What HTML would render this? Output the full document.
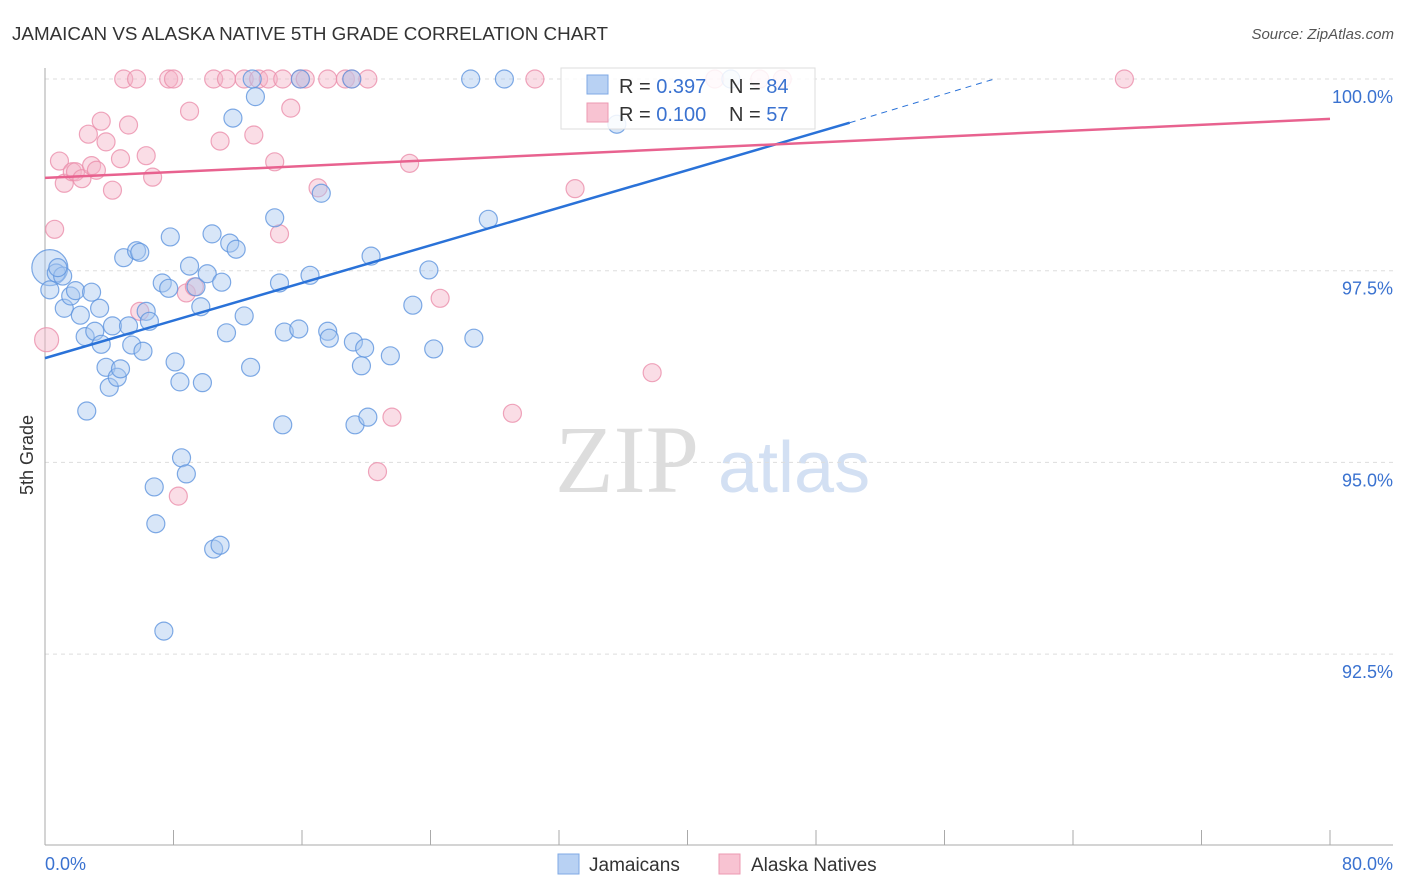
<!DOCTYPE html>
<html><head><meta charset="utf-8"><style>
body{margin:0;background:#fff;font-family:"Liberation Sans",sans-serif}
svg{display:block}
</style></head><body>
<svg id="chart" width="1406" height="892" xmlns="http://www.w3.org/2000/svg">
<text x="12" y="40" font-size="18" fill="#333" textLength="596" lengthAdjust="spacingAndGlyphs">JAMAICAN VS ALASKA NATIVE 5TH GRADE CORRELATION CHART</text>
<text x="1394" y="39" font-size="15" fill="#555" font-style="italic" text-anchor="end">Source: ZipAtlas.com</text>
<text x="33" y="455" font-size="18" fill="#333" text-anchor="middle" transform="rotate(-90 33 455)">5th Grade</text>
<text x="555" y="492" font-size="96" fill="#ddd" font-family="Liberation Serif,serif">ZIP</text>
<text x="718" y="492" font-size="72" fill="#d3e0f3">atlas</text>
<g id="grid"></g><g id="axes"></g><g id="pts"></g><g id="lines"></g>
<g>
<rect x="561" y="68" width="254" height="61" fill="#fff" fill-opacity="0.85" stroke="#ddd"/>
<rect x="587" y="75" width="21" height="19" fill="#b8d1f3" stroke="#7fa9e4"/>
<rect x="587" y="103" width="21" height="19" fill="#f8c3d2" stroke="#ec9ab2"/>
<text x="619" y="93" font-size="20" fill="#333">R = <tspan fill="#3a72d0">0.397</tspan></text>
<text x="729" y="93" font-size="20" fill="#333">N = <tspan fill="#3a72d0">84</tspan></text>
<text x="619" y="121" font-size="20" fill="#333">R = <tspan fill="#3a72d0">0.100</tspan></text>
<text x="729" y="121" font-size="20" fill="#333">N = <tspan fill="#3a72d0">57</tspan></text>
</g>
<g>
<rect x="558" y="854" width="21" height="20" fill="#b8d1f3" stroke="#7fa9e4"/>
<text x="589" y="871" font-size="19" fill="#333">Jamaicans</text>
<rect x="719" y="854" width="21" height="20" fill="#f8c3d2" stroke="#ec9ab2"/>
<text x="751" y="871" font-size="19" fill="#333">Alaska Natives</text>
</g>
</svg>
<script>
const blueX=[0.3,0.3,0.7,1.1,0.8,1.2,1.6,1.9,2.9,2.2,2.5,3.1,3.4,3.5,2.6,3.8,4.0,4.5,4.7,4.2,4.9,5.7,5.9,5.2,5.4,6.1,6.3,6.5,7.3,7.7,7.8,8.1,8.4,8.5,8.8,6.8,6.9,7.4,9.0,9.4,9.7,9.8,10.1,10.4,11.0,11.3,11.5,11.9,10.5,10.9,12.4,12.8,12.9,13.1,11.7,14.3,14.6,14.8,14.9,15.8,15.9,16.5,17.2,17.6,17.7,19.1,19.2,19.3,19.7,19.9,20.1,20.3,21.5,22.9,23.9,24.2,26.7,26.5,27.6,28.6,35.6,42.7];
const blueY=[97.54,97.25,97.47,97.43,97.54,97.01,97.17,97.24,97.22,96.92,96.64,96.71,97.01,96.54,95.67,96.24,95.98,96.11,96.22,96.78,97.67,97.76,97.74,96.78,96.53,96.45,96.97,96.84,97.34,97.27,97.94,96.31,96.05,95.06,94.85,94.68,94.20,92.80,97.56,97.29,97.03,96.04,97.46,97.98,97.35,96.69,97.86,97.78,93.87,93.92,96.91,96.24,100,99.77,99.49,98.19,97.34,95.49,96.70,96.74,100,97.44,98.51,96.71,96.62,100,96.57,95.49,96.26,96.49,95.59,97.69,96.39,97.05,97.51,96.48,96.62,100,98.17,100,99.41,100];
const pinkX=[0.1,0.6,0.9,1.2,1.7,1.9,2.3,2.7,2.9,3.2,3.5,3.8,4.2,4.7,5.2,4.9,5.7,5.9,6.3,6.7,7.7,8.0,8.3,8.8,9.0,9.3,10.5,10.9,11.3,12.4,13.0,13.3,13.9,14.3,14.6,14.8,15.3,15.9,16.2,17.0,17.6,18.7,19.1,20.1,20.7,21.6,22.7,24.6,29.1,30.5,33.0,37.8,41.7,44.5,45.9,67.2];
const pinkY=[96.60,98.04,98.93,98.64,98.79,98.79,98.70,99.28,98.87,98.81,99.45,99.18,98.55,98.96,99.40,100,100,96.97,99.00,98.72,100,100,94.56,97.21,99.58,97.29,100,99.19,100,100,99.27,100,100,98.92,97.98,100,99.62,100,100,98.58,100,100,100,100,94.88,95.59,98.90,97.14,95.64,100,98.57,96.17,100,100,100,100];
const blueTrend=[[0,96.36],[50.1,99.43]], blueDash=[[50.1,99.43],[59.1,100]];
const pinkTrend=[[0,98.71],[80,99.48]];
const yTicks=[100,97.5,95,92.5], yTickLabels=["100.0%","97.5%","95.0%","92.5%"];
const xTickVals=[0,8,16,24,32,40,48,56,64,72,80];
const NS="http://www.w3.org/2000/svg";
const sx=v=>45+v/80*1285, sy=v=>79+(100-v)/2.5*191.7;
function mk(t,a,p){const e=document.createElementNS(NS,t);for(const k in a)e.setAttribute(k,a[k]);p.appendChild(e);return e;}
const grid=document.getElementById('grid'),axes=document.getElementById('axes'),pts=document.getElementById('pts'),lines=document.getElementById('lines');
yTicks.forEach((t,i)=>{const l=mk('line',{x1:45,x2:1393,y1:sy(t),y2:sy(t),stroke:'#ddd','stroke-dasharray':'4,4'},grid);


const tx=mk('text',{x:1393,y:sy(t)+24,'font-size':18,fill:'#3a72d0','text-anchor':'end'},grid);tx.textContent=yTickLabels[i];

});
let a=mk('line',{x1:45,x2:45,y1:68,y2:845,stroke:'#aaa'},axes);


a=mk('line',{x1:45,x2:1393,y1:845,y2:845,stroke:'#aaa'},axes);


xTickVals.forEach(v=>{const t=mk('line',{x1:sx(v),x2:sx(v),y1:830,y2:845,stroke:'#aaa'},axes);

});
let t=mk('text',{x:45,y:870,'font-size':18,fill:'#3a72d0'},axes);t.textContent='0.0%';


t=mk('text',{x:1393,y:870,'font-size':18,fill:'#3a72d0','text-anchor':'end'},axes);t.textContent='80.0%';


function dots(X,Y,fill,stroke,name,big){X.forEach((x,i)=>{const c=mk('circle',{cx:sx(x),cy:sy(Y[i]),r:i===0?big:9,fill:fill,'fill-opacity':0.45,stroke:stroke,'stroke-opacity':0.8,'stroke-width':1.2},pts);

});}
dots(pinkX,pinkY,'#f5b4c8','#eb8fab','alaska-point',12);
dots(blueX,blueY,'#a9c8f0','#5f95de','jamaican-point',18);
let l=mk('line',{x1:sx(blueTrend[0][0]),y1:sy(blueTrend[0][1]),x2:sx(blueTrend[1][0]),y2:sy(blueTrend[1][1]),stroke:'#2a72d8','stroke-width':2.5},lines);


l=mk('line',{x1:sx(blueDash[0][0]),y1:sy(blueDash[0][1]),x2:sx(blueDash[1][0]),y2:sy(blueDash[1][1]),stroke:'#2a72d8','stroke-width':1,'stroke-dasharray':'6,5'},lines);


l=mk('line',{x1:sx(pinkTrend[0][0]),y1:sy(pinkTrend[0][1]),x2:sx(pinkTrend[1][0]),y2:sy(pinkTrend[1][1]),stroke:'#e8628f','stroke-width':2.5},lines);


</script>
</body></html>
